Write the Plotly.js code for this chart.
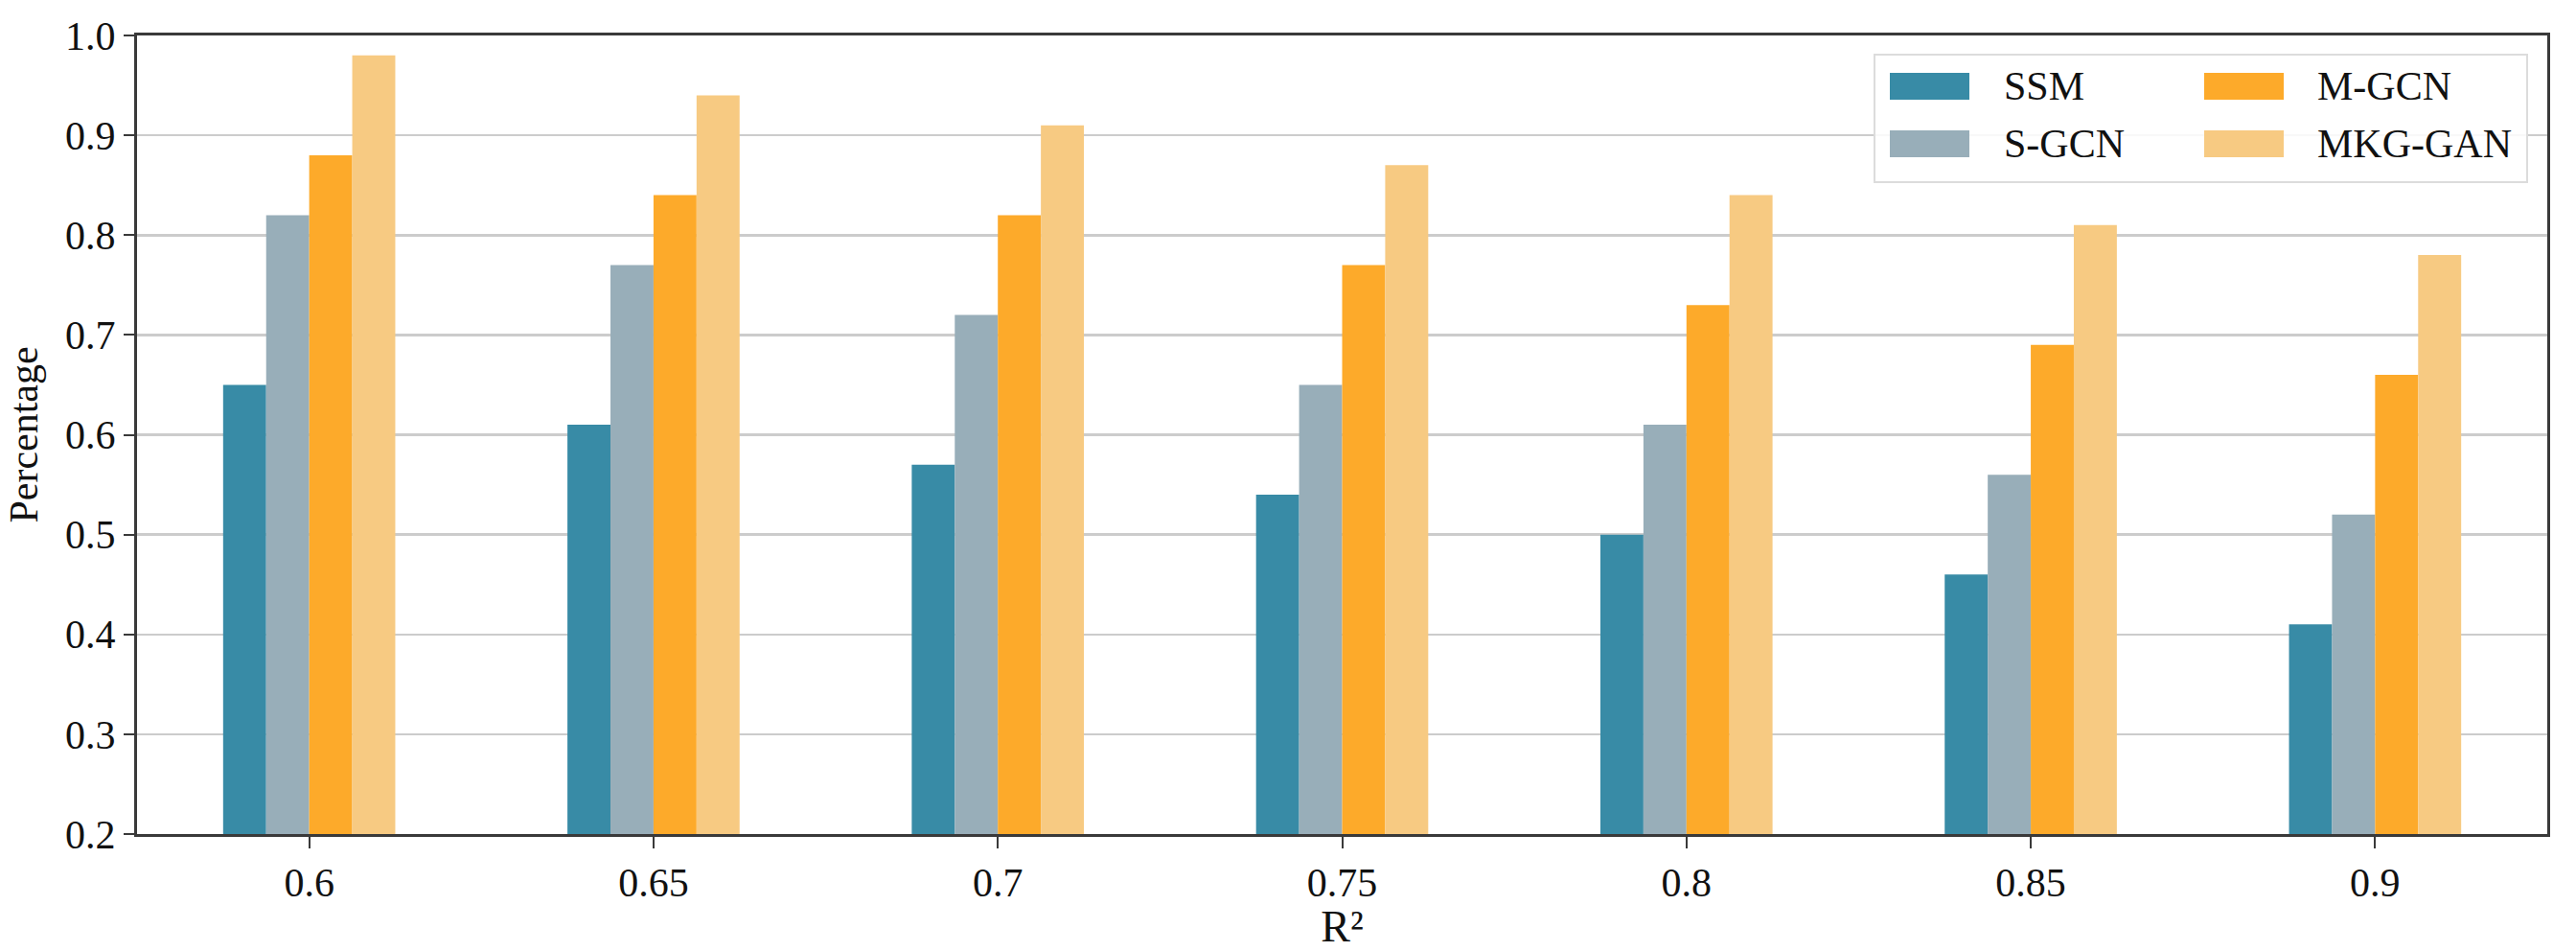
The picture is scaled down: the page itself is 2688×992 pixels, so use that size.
<!DOCTYPE html>
<html>
<head>
<meta charset="utf-8">
<script src="https://cdn.plot.ly/plotly-3.0.1.min.js"></script>
<style>html,body{margin:0;padding:0;background:#fff;}#chart{width:2688px;height:992px;}</style>
</head>
<body>
<div id="chart"></div>
<script>
const categories = ['0.6', '0.65', '0.7', '0.75', '0.8', '0.85', '0.9'];
const seriesNames = ['SSM', 'S-GCN', 'M-GCN', 'MKG-GAN'];
const ssm    = [0.65, 0.61, 0.57, 0.54, 0.50, 0.46, 0.41];
const sgcn   = [0.82, 0.77, 0.72, 0.65, 0.61, 0.56, 0.52];
const mgcn   = [0.88, 0.84, 0.82, 0.77, 0.73, 0.69, 0.66];
const mkggan = [0.98, 0.94, 0.91, 0.87, 0.84, 0.81, 0.78];
const colors = ['#388BA6', '#98AEB9', '#FDAA2A', '#F7CA82'];
const yTickVals = [0.2, 0.3, 0.4, 0.5, 0.6, 0.7, 0.8, 0.9, 1.0];

const W = 2688, H = 992;
const L = 143, R = 2658, T = 37, B = 870;
const font = '"Liberation Serif", "Times New Roman", Times, serif';
const px2x = p => (p - L) / (R - L);
const py2y = p => (B - p) / (B - T);

const allVals = [ssm, sgcn, mgcn, mkggan];
const traces = allVals.map((v, i) => ({
  type: 'bar', x: categories, y: v, name: seriesNames[i],
  marker: {color: colors[i], line: {width: 0}},
  showlegend: false
}));

// custom legend (matplotlib-style long swatches)
const shapes = [];
const annotations = [];
shapes.push({type: 'rect', xref: 'paper', yref: 'paper',
  x0: px2x(1956), x1: px2x(2637), y0: py2y(190), y1: py2y(57),
  line: {color: '#dcdcdc', width: 2}, fillcolor: 'rgba(255,255,255,0.85)', layer: 'above'});
const legPos = [
  {sx: 1972, tx: 2089, cy: 90},
  {sx: 1972, tx: 2089, cy: 150},
  {sx: 2300, tx: 2416, cy: 90},
  {sx: 2300, tx: 2416, cy: 150}
];
seriesNames.forEach((n, i) => {
  const p = legPos[i];
  shapes.push({type: 'rect', xref: 'paper', yref: 'paper',
    x0: px2x(p.sx), x1: px2x(p.sx + 83), y0: py2y(p.cy + 14), y1: py2y(p.cy - 14),
    line: {width: 0}, fillcolor: colors[i], layer: 'above'});
  annotations.push({xref: 'paper', yref: 'paper', x: px2x(p.tx), y: py2y(p.cy),
    xanchor: 'left', yanchor: 'middle', text: n, showarrow: false,
    font: {family: font, size: 42, color: '#111'}});
});

const layout = {
  width: W, height: H,
  margin: {l: L, r: W - R, t: T, b: H - B},
  paper_bgcolor: '#fff', plot_bgcolor: '#fff',
  barmode: 'group', bargap: 0.5, bargroupgap: 0,
  font: {family: font, size: 40, color: '#111'},
  xaxis: {
    type: 'category', range: [-0.5, 6.5],
    showline: true, linecolor: '#3a3a3a', linewidth: 3, mirror: true,
    ticks: 'outside', ticklen: 12, tickwidth: 2, tickcolor: '#3a3a3a',
    tickfont: {family: font, size: 42, color: '#111'},
    showgrid: false, zeroline: false,
    title: {text: 'R²', font: {family: font, size: 46, color: '#111'}, standoff: 16}
  },
  yaxis: {
    range: [0.2, 1.0], tickvals: yTickVals, tickformat: '.1f',
    showline: true, linecolor: '#3a3a3a', linewidth: 3, mirror: true,
    ticks: 'outside', ticklen: 11, tickwidth: 2, tickcolor: '#3a3a3a',
    tickfont: {family: font, size: 42, color: '#111'},
    showgrid: true, gridcolor: '#cccccc', gridwidth: 2.5, zeroline: false,
    title: {text: 'Percentage', font: {family: font, size: 42, color: '#111'}, standoff: 16}
  },
  shapes: shapes,
  annotations: annotations
};

Plotly.newPlot('chart', traces, layout, {displayModeBar: false, staticPlot: true});
</script>
</body>
</html>
